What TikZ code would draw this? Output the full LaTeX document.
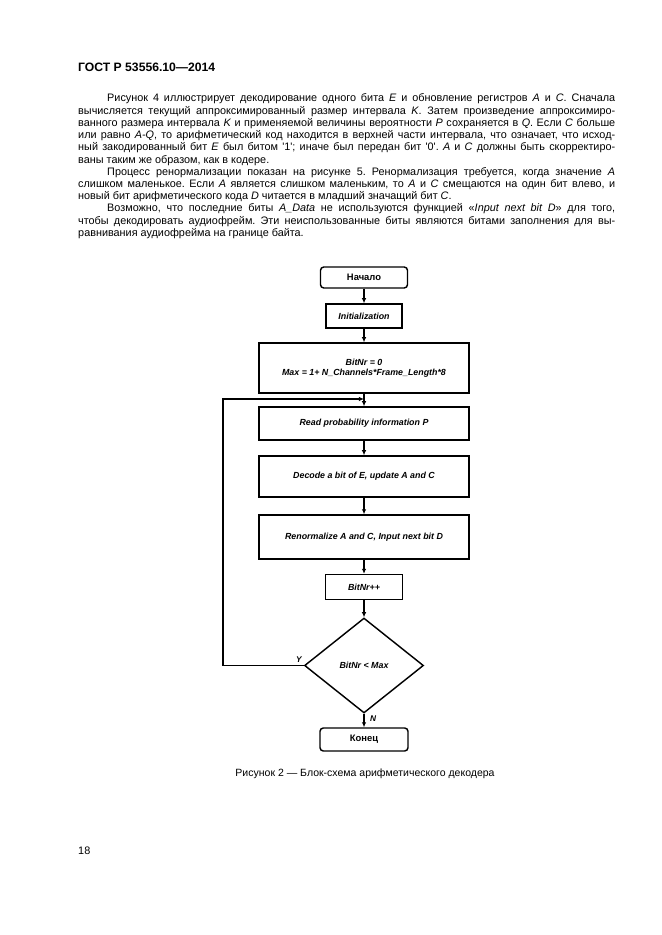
\documentclass[tikz,border=0pt]{standalone}
\usepackage{fontspec}
\setmainfont{Liberation Sans}
\usetikzlibrary{shapes.geometric,arrows.meta}
\newlength\pu
\setlength\pu{0.3177mm}
\frenchspacing
\begin{document}
\begin{tikzpicture}[x=0.3177mm,y=-0.3177mm,
  bodyline/.style={anchor=base west, inner sep=0, font=\fontsize{9.8}{12}\selectfont},
  boxnode/.style={draw, line width=1.3pt, inner sep=0, align=center, font=\fontsize{8}{9.5}\selectfont\bfseries\itshape},
  termnode/.style={boxnode, rounded corners=3pt, font=\fontsize{8.5}{10}\selectfont\bfseries},
  arr/.style={line width=1pt, -{Latex[length=1.6mm,width=1.45mm]}},
  lbl/.style={inner sep=0, font=\fontsize{7.5}{9}\selectfont\bfseries\itshape}
]
\fill[white] (0,0) rectangle (661,935);
\useasboundingbox (0,0) rectangle (661,935);

\node[anchor=base west, inner sep=0, font=\fontsize{11}{13}\selectfont\bfseries] (hdr) at (78,71.5) {ГОСТ Р 53556.10—2014};

\node[bodyline] (l1) at (107,102) {\makebox[508\pu][s]{Рисунок 4 иллюстрирует декодирование одного бита \textit{E} и обновление регистров \textit{A} и \textit{C}. Сначала}};
\node[bodyline] (l2) at (78,114.2) {\makebox[537\pu][s]{вычисляется текущий аппроксимированный размер интервала \textit{K}. Затем произведение аппроксимиро-}};
\node[bodyline] (l3) at (78,126.4) {\makebox[537\pu][s]{ванного размера интервала \textit{K} и применяемой величины вероятности \textit{P} сохраняется в \textit{Q}. Если \textit{C} больше}};
\node[bodyline] (l4) at (78,138.6) {\makebox[537\pu][s]{или равно \textit{A-Q}, то арифметический код находится в верхней части интервала, что означает, что исход-}};
\node[bodyline] (l5) at (78,150.8) {\makebox[537\pu][s]{ный закодированный бит \textit{E} был битом \textquotesingle1\textquotesingle; иначе был передан бит \textquotesingle0\textquotesingle. \textit{A} и \textit{C} должны быть скорректиро-}};
\node[bodyline] (l6) at (78,163) {ваны таким же образом, как в кодере.};
\node[bodyline] (l7) at (107,175.2) {\makebox[508\pu][s]{Процесс ренормализации показан на рисунке 5. Ренормализация требуется, когда значение \textit{A}}};
\node[bodyline] (l8) at (78,187.4) {\makebox[537\pu][s]{слишком маленькое. Если \textit{A} является слишком маленьким, то \textit{A} и \textit{C} смещаются на один бит влево, и}};
\node[bodyline] (l9) at (78,199.6) {новый бит арифметического кода \textit{D} читается в младший значащий бит \textit{C}.};
\node[bodyline] (l10) at (107,211.8) {\makebox[508\pu][s]{Возможно, что последние биты \textit{A\_Data} не используются функцией «\textit{Input next bit D}» для того,}};
\node[bodyline] (l11) at (78,224) {\makebox[537\pu][s]{чтобы декодировать аудиофрейм. Эти неиспользованные биты являются битами заполнения для вы-}};
\node[bodyline] (l12) at (78,236.2) {равнивания аудиофрейма на границе байта.};

\node[termnode, minimum width=87\pu, minimum height=21\pu] (start) at (364,277.5) {Начало};
\node[boxnode, minimum width=76\pu, minimum height=24\pu] (init) at (364,316) {Initialization};
\node[boxnode, minimum width=210\pu, minimum height=50\pu] (setup) at (364,368) {BitNr = 0\\Max = 1+ N\_Channels*Frame\_Length*8};
\node[boxnode, minimum width=210\pu, minimum height=33\pu] (read) at (364,423.5) {Read probability information P};
\node[boxnode, minimum width=210\pu, minimum height=41\pu] (decode) at (364,476.5) {Decode a bit of E, update A and C};
\node[boxnode, minimum width=210\pu, minimum height=44\pu] (renorm) at (364,537) {Renormalize A and C, Input next bit D};
\node[boxnode, minimum width=77\pu, minimum height=25\pu] (inc) at (364,587) {BitNr++};
\node[diamond, draw, line width=1.3pt, inner sep=0, minimum width=119\pu, minimum height=95\pu, font=\fontsize{8}{9.5}\selectfont\bfseries\itshape] (cond) at (364,665.5) {BitNr < Max};
\node[termnode, minimum width=88\pu, minimum height=23\pu] (end) at (364,739.5) {Конец};

\draw[arr] (start) -- (init);
\draw[arr] (init) -- (setup);
\draw[arr] (setup) -- (read);
\draw[arr] (read) -- (decode);
\draw[arr] (decode) -- (renorm);
\draw[arr] (renorm) -- (inc);
\draw[arr] (inc) -- (cond);
\draw[arr] (cond) -- (end);
\coordinate (lp) at (223,399);
\draw[arr] (cond.west) -| (lp) -- (lp -| setup.south);

\node[lbl] (ylab) at (299,660) {Y};
\node[lbl] (nlab) at (373,719) {N};

\node[anchor=base, inner sep=0, font=\fontsize{9.5}{11}\selectfont] (cap) at (365,776) {Рисунок 2 — Блок-схема арифметического декодера};
\node[anchor=base west, inner sep=0, font=\fontsize{9.8}{12}\selectfont] (pg) at (78,854) {18};
\end{tikzpicture}
\end{document}
